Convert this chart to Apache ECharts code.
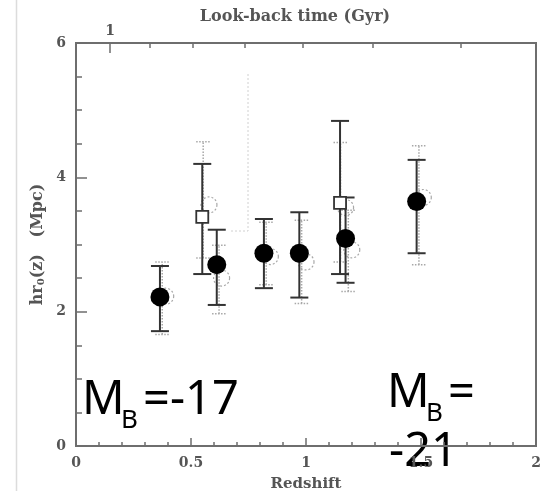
<!DOCTYPE html>
<html>
<head>
<meta charset="utf-8">
<script src="https://cdn.jsdelivr.net/npm/echarts@6/dist/echarts.min.js"></script>
<style>
  html, body { margin: 0; padding: 0; background: #fff; }
  #chart { width: 551px; height: 491px; }
</style>
</head>
<body>
<div id="chart"></div>
<script>
// filled circles
var zFilled = [0.365, 0.612, 0.817, 0.971, 1.172, 1.481];
var hrFilled = [2.22, 2.70, 2.87, 2.87, 3.09, 3.64];
var hrFilledLo = [1.71, 2.10, 2.35, 2.21, 2.43, 2.87];
var hrFilledHi = [2.68, 3.22, 3.38, 3.48, 3.70, 4.26];

// open squares
var zSquare = [0.549, 1.148];
var hrSquare = [3.41, 3.62];
var hrSquareLo = [2.56, 2.56];
var hrSquareHi = [4.20, 4.84];

// dotted open circles (companions)
var zOpen = [0.390, 0.633, 0.845, 1.000, 1.199, 1.510, 0.578, 1.172];
var hrOpen = [2.23, 2.50, 2.82, 2.74, 2.92, 3.70, 3.59, 3.55];
var zOpenBar = [0.375, 0.622, 0.827, 0.981, 1.184, 1.491, 0.553, 1.150];
var hrOpenLo = [1.66, 1.97, 2.40, 2.12, 2.30, 2.70, 2.80, 2.74];
var hrOpenHi = [2.74, 2.99, 3.33, 3.36, 3.51, 4.47, 4.53, 4.52];

// look-back time ticks on top axis (redshift positions)
var lookbackZ = [0.148, 0.319, 0.507, 0.734, 0.987, 1.292, 1.671];
var lookbackLabelZ = [0.148];
var lookbackLabels = ['1'];

var axisFont = 'DejaVu Serif';
var axisColor = '#555';
var lineColor = '#6e6e6e';

var chart = echarts.init(document.getElementById('chart'));

function zip3(a, b, c) {
  return a.map(function (v, i) { return [v, b[i], c[i]]; });
}
function zip2(a, b) {
  return a.map(function (v, i) { return [v, b[i]]; });
}

function errBar(half, style) {
  return function (params, api) {
    var x = api.value(0);
    var p1 = api.coord([x, api.value(1)]);
    var p2 = api.coord([x, api.value(2)]);
    return {
      type: 'group',
      children: [
        { type: 'line', shape: { x1: p1[0], y1: p1[1], x2: p2[0], y2: p2[1] }, style: style },
        { type: 'line', shape: { x1: p1[0] - half, y1: p1[1], x2: p1[0] + half, y2: p1[1] }, style: style },
        { type: 'line', shape: { x1: p2[0] - half, y1: p2[1], x2: p2[0] + half, y2: p2[1] }, style: style }
      ]
    };
  };
}

var dotStyle = { stroke: '#a8a8a8', lineWidth: 1.5, lineDash: [1.5, 1.5], fill: null };
var solidStyle = { stroke: '#333', lineWidth: 2, fill: null };
var tickLine = { color: lineColor, width: 1.5 };
var labelStyle = { fontFamily: axisFont, fontWeight: 'bold', fontSize: 14, color: axisColor };

var option = {
  backgroundColor: '#fff',
  animation: false,
  grid: {
    left: 76, right: 15, top: 43, bottom: 45, outerBoundsMode: 'none',
    show: true, borderColor: lineColor, borderWidth: 2
  },
  xAxis: [
    {
      type: 'value', position: 'bottom', min: 0, max: 2, interval: 0.5,
      name: 'Redshift', nameLocation: 'middle', nameGap: 31, nameMoveOverlap: false,
      nameTextStyle: { fontFamily: axisFont, fontWeight: 'bold', fontSize: 15, color: axisColor },
      axisLine: { lineStyle: { color: lineColor, width: 2 } },
      axisTick: { inside: true, length: 8, lineStyle: tickLine },
      axisLabel: Object.assign({ margin: 10 }, labelStyle),
      splitLine: { show: false }
    },
    {
      type: 'value', position: 'bottom', min: 0, max: 2, interval: 0.1,
      axisLine: { show: false },
      axisTick: { inside: true, length: 4, lineStyle: tickLine },
      axisLabel: { show: false },
      splitLine: { show: false }
    },
    {
      type: 'value', position: 'top', min: 0, max: 2,
      name: 'Look-back time (Gyr)', nameLocation: 'middle', nameGap: 18, nameMoveOverlap: false,
      nameTextStyle: { fontFamily: axisFont, fontWeight: 'bold', fontSize: 16, color: axisColor, padding: [0, 22, 0, 0] },
      axisLine: { lineStyle: { color: lineColor, width: 2 } },
      axisTick: { inside: true, length: 10, customValues: lookbackLabelZ, lineStyle: tickLine },
      axisLabel: Object.assign({
        customValues: lookbackLabelZ, margin: 5,
        formatter: function (v) { return lookbackLabels[lookbackLabelZ.indexOf(v)] || ''; }
      }, labelStyle),
      splitLine: { show: false }
    },
    {
      type: 'value', position: 'top', min: 0, max: 2,
      axisLine: { show: false },
      axisTick: { inside: true, length: 5, customValues: lookbackZ, lineStyle: tickLine },
      axisLabel: { show: false },
      splitLine: { show: false }
    }
  ],
  yAxis: [
    {
      type: 'value', position: 'left', min: 0, max: 6, interval: 2,
      name: '{a|hr}{s|0}{a|(z)   (Mpc)}', nameLocation: 'middle', nameGap: 30, nameMoveOverlap: false,
      nameTextStyle: {
        rich: {
          a: { fontFamily: axisFont, fontWeight: 'bold', fontSize: 16, color: axisColor, verticalAlign: 'bottom' },
          s: { fontFamily: axisFont, fontWeight: 'bold', fontSize: 10, color: axisColor, verticalAlign: 'bottom' }
        }
      },
      axisLine: { lineStyle: { color: lineColor, width: 2 } },
      axisTick: { inside: true, length: 11, lineStyle: tickLine },
      axisLabel: Object.assign({ margin: 10 }, labelStyle),
      splitLine: { show: false }
    },
    {
      type: 'value', position: 'left', min: 0, max: 6, interval: 0.5,
      axisLine: { show: false },
      axisTick: { inside: true, length: 6, lineStyle: tickLine },
      axisLabel: { show: false },
      splitLine: { show: false }
    }
  ],
  series: [
    {
      type: 'custom', renderItem: errBar(7, dotStyle), z: 1,
      data: zip3(zOpenBar, hrOpenLo, hrOpenHi), encode: { x: 0, y: [1, 2] }, silent: true
    },
    {
      type: 'scatter', symbol: 'circle', symbolSize: 16, z: 2,
      itemStyle: { color: 'transparent', borderColor: '#a8a8a8', borderWidth: 1.2, borderType: [2, 2], opacity: 1 },
      data: zip2(zOpen, hrOpen)
    },
    {
      type: 'custom', renderItem: errBar(9, solidStyle), z: 3,
      data: zip3(zFilled, hrFilledLo, hrFilledHi), encode: { x: 0, y: [1, 2] }, silent: true
    },
    {
      type: 'custom', renderItem: errBar(9, solidStyle), z: 3,
      data: zip3(zSquare, hrSquareLo, hrSquareHi), encode: { x: 0, y: [1, 2] }, silent: true
    },
    {
      type: 'scatter', symbol: 'rect', symbolSize: 12, z: 4,
      itemStyle: { color: '#fff', borderColor: '#333', borderWidth: 1.8, opacity: 1 },
      data: zip2(zSquare, hrSquare)
    },
    {
      type: 'scatter', symbol: 'circle', symbolSize: 19, z: 5,
      itemStyle: { color: '#000', opacity: 1 },
      data: zip2(zFilled, hrFilled)
    }
  ],
  graphic: [
    { type: 'line', shape: { x1: 16.5, y1: 0, x2: 16.5, y2: 491 }, style: { stroke: '#dcdcdc', lineWidth: 1.5 } },
    { type: 'polyline', shape: { points: [[248, 74], [248, 231], [230, 231]] }, style: { stroke: '#d0d0d0', lineWidth: 1, lineDash: [2, 2], fill: null } },
    { type: 'text', x: 82, y: 377, style: { text: 'M', font: '47px "Noto Sans"', fill: '#000', verticalAlign: 'top' } },
    { type: 'text', x: 121, y: 408, style: { text: 'B', font: '26px "Noto Sans"', fill: '#000', verticalAlign: 'top' } },
    { type: 'text', x: 143, y: 377, style: { text: '=-17', font: '47px "Noto Sans"', fill: '#000', verticalAlign: 'top' } },
    { type: 'text', x: 387, y: 370, style: { text: 'M', font: '47px "Noto Sans"', fill: '#000', verticalAlign: 'top' } },
    { type: 'text', x: 426, y: 401, style: { text: 'B', font: '26px "Noto Sans"', fill: '#000', verticalAlign: 'top' } },
    { type: 'text', x: 448, y: 370, style: { text: '=', font: '47px "Noto Sans"', fill: '#000', verticalAlign: 'top' } },
    { type: 'text', x: 389, y: 429, style: { text: '-21', font: '47px "Noto Sans"', fill: '#000', verticalAlign: 'top' } }
  ]
};

chart.setOption(option);
</script>
</body>
</html>
